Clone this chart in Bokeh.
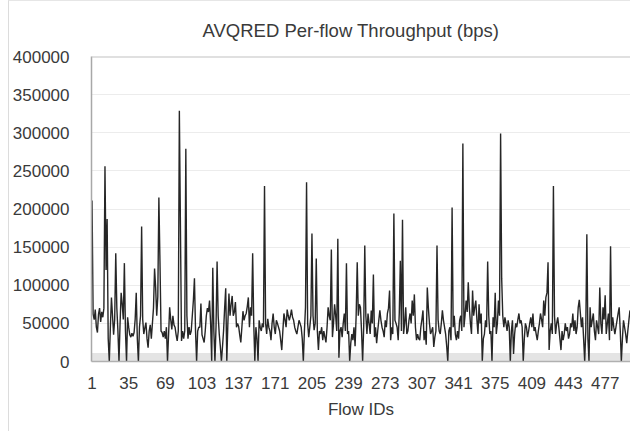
from bokeh.plotting import figure
from bokeh.models import (FixedTicker, NumeralTickFormatter, BoxAnnotation, Span,
                          Range1d, Title)
from bokeh.embed import file_html
from bokeh.resources import INLINE

# Per-flow throughput (bps) of the 500 flows under AVQRED
throughput_bps = [
    211000, 62000, 55000, 68000, 45000, 38000, 62000, 70000, 52000, 65000,
    58000, 70000, 256000, 120000, 187000, 30000, 0, 45000, 84000, 60000,
    35000, 55000, 142000, 70000, 40000, 0, 50000, 90000, 75000, 55000,
    129000, 40000, 0, 58000, 45000, 35000, 32000, 37000, 33000, 38000,
    55000, 90000, 30000, 0, 45000, 60000, 177000, 55000, 36000, 44000,
    51000, 30000, 18000, 40000, 48000, 30000, 50000, 70000, 122000, 97000,
    60000, 85000, 215000, 132000, 40000, 38000, 32000, 40000, 30000, 45000,
    0, 35000, 71000, 55000, 42000, 60000, 48000, 45000, 35000, 27000,
    40000, 329000, 176000, 27000, 40000, 30000, 40000, 279000, 60000, 30000,
    45000, 35000, 40000, 60000, 80000, 109000, 40000, 0, 40000, 45000,
    # 101 - 200
    45000, 76000, 35000, 30000, 25000, 40000, 60000, 70000, 65000, 80000,
    50000, 0, 123000, 40000, 0, 45000, 131000, 60000, 36000, 20000,
    0, 19000, 40000, 70000, 96000, 0, 50000, 89000, 60000, 75000,
    86000, 60000, 65000, 78000, 45000, 50000, 46000, 35000, 25000, 45000,
    66000, 54000, 60000, 63000, 72000, 84000, 45000, 71000, 60000, 142000,
    50000, 0, 45000, 30000, 0, 54000, 45000, 40000, 50000, 45000,
    230000, 50000, 36000, 56000, 45000, 40000, 28000, 50000, 63000, 45000,
    36000, 54000, 50000, 45000, 40000, 28000, 15000, 40000, 63000, 55000,
    45000, 68000, 60000, 54000, 60000, 68000, 58000, 54000, 45000, 40000,
    36000, 45000, 54000, 50000, 45000, 30000, 0, 40000, 71000, 235000,
    # 201 - 300
    50000, 32000, 45000, 60000, 168000, 60000, 41000, 50000, 135000, 40000,
    15000, 40000, 36000, 45000, 28000, 40000, 32000, 25000, 45000, 71000,
    60000, 54000, 147000, 32000, 50000, 75000, 60000, 40000, 161000, 5000,
    40000, 45000, 32000, 50000, 63000, 40000, 129000, 36000, 40000, 0,
    24000, 36000, 28000, 45000, 20000, 60000, 130000, 60000, 75000, 71000,
    40000, 0, 45000, 152000, 60000, 36000, 63000, 50000, 36000, 67000,
    50000, 114000, 32000, 45000, 24000, 40000, 54000, 67000, 54000, 45000,
    40000, 32000, 54000, 45000, 63000, 70000, 93000, 28000, 45000, 36000,
    194000, 54000, 50000, 45000, 28000, 63000, 132000, 40000, 186000, 36000,
    50000, 71000, 36000, 40000, 54000, 63000, 50000, 80000, 60000, 88000,
    # 301 - 400
    45000, 28000, 36000, 30000, 28000, 45000, 55000, 67000, 28000, 40000,
    22000, 97000, 70000, 50000, 36000, 40000, 45000, 19000, 32000, 40000,
    152000, 55000, 40000, 36000, 50000, 67000, 54000, 45000, 36000, 20000,
    0, 40000, 45000, 28000, 202000, 45000, 60000, 36000, 28000, 40000,
    30000, 54000, 60000, 40000, 286000, 45000, 60000, 80000, 65000, 104000,
    71000, 50000, 36000, 93000, 60000, 71000, 80000, 55000, 36000, 75000,
    50000, 63000, 0, 30000, 36000, 54000, 45000, 131000, 60000, 36000,
    40000, 0, 58000, 45000, 90000, 36000, 50000, 80000, 60000, 299000,
    109000, 60000, 45000, 58000, 50000, 40000, 54000, 45000, 0, 40000,
    54000, 10000, 36000, 50000, 45000, 55000, 63000, 50000, 54000, 45000,
    # 401 - 500
    0, 30000, 50000, 45000, 32000, 40000, 50000, 58000, 45000, 63000,
    40000, 45000, 36000, 28000, 40000, 50000, 63000, 55000, 45000, 80000,
    60000, 84000, 90000, 130000, 15000, 40000, 50000, 36000, 230000, 60000,
    36000, 50000, 58000, 45000, 30000, 15000, 40000, 28000, 36000, 50000,
    40000, 45000, 30000, 36000, 50000, 45000, 63000, 40000, 54000, 36000,
    45000, 71000, 81000, 63000, 45000, 58000, 30000, 0, 40000, 167000,
    30000, 0, 71000, 45000, 54000, 63000, 40000, 28000, 54000, 45000,
    36000, 97000, 50000, 36000, 71000, 55000, 87000, 36000, 50000, 63000,
    28000, 151000, 40000, 58000, 45000, 36000, 45000, 54000, 63000, 71000,
    40000, 0, 30000, 54000, 45000, 36000, 24000, 40000, 54000, 67000,
]
flow_ids = list(range(1, len(throughput_bps) + 1))

x_tick_labels = [1, 35, 69, 103, 137, 171, 205, 239, 273, 307, 341, 375, 409, 443, 477]
y_ticks = [0, 50000, 100000, 150000, 200000, 250000, 300000, 350000, 400000]

FONT = "Liberation Sans"
TEXT = "#3a3a3a"

p = figure(
    width=622, height=431,
    output_backend="svg", toolbar_location=None,
    x_range=Range1d(0.5, len(flow_ids) + 0.5),
    y_range=Range1d(0, 400000),
    min_border_left=81, min_border_right=1,
    min_border_top=55, min_border_bottom=71,
    background_fill_color="white", border_fill_color="white",
    outline_line_color=None,
)
p.margin = (0, 0, 0, 8)
p.styles = {"border-left": "1px solid #dcdcdc", "border-top": "1px solid #e6e6e6"}

p.title = Title(text="AVQRED Per-flow Throughput (bps)", align="left", offset=111,
                text_font=FONT, text_font_size="18.5px", text_font_style="normal",
                text_color=TEXT, standoff=31)

# light floor band along the category axis
p.add_layout(BoxAnnotation(bottom=0, top=11000, fill_color="#e4e4e4", fill_alpha=1.0,
                           line_color=None, level="underlay"))

p.line(flow_ids, throughput_bps, line_color="#262626", line_width=1.4)

# top border of the plot area
p.add_layout(Span(location=400000, dimension="width", line_color="#c2c2c2", line_width=2))

# y axis
p.yaxis.ticker = FixedTicker(ticks=y_ticks)
p.yaxis.formatter = NumeralTickFormatter(format="0")
p.yaxis.major_tick_line_color = None
p.yaxis.minor_tick_line_color = None
p.yaxis.axis_line_color = "#a8a8a8"
p.yaxis.axis_line_width = 1.5
p.yaxis.major_label_standoff = 16
p.yaxis.major_label_text_font = FONT
p.yaxis.major_label_text_font_size = "17px"
p.yaxis.major_label_text_color = TEXT

# x axis
p.xaxis.ticker = FixedTicker(ticks=x_tick_labels)
p.xaxis.major_tick_line_color = None
p.xaxis.minor_tick_line_color = None
p.xaxis.axis_line_color = "#b0b0b0"
p.xaxis.axis_line_width = 1.5
p.xaxis.major_label_standoff = 9
p.xaxis.major_label_text_font = FONT
p.xaxis.major_label_text_font_size = "17px"
p.xaxis.major_label_text_color = TEXT
p.xaxis.axis_label = "Flow IDs"
p.xaxis.axis_label_standoff = 8
p.xaxis.axis_label_text_font = FONT
p.xaxis.axis_label_text_font_size = "17px"
p.xaxis.axis_label_text_font_style = "normal"
p.xaxis.axis_label_text_color = TEXT

p.xgrid.grid_line_color = None
p.ygrid.ticker = FixedTicker(ticks=y_ticks)
p.ygrid.grid_line_color = "#ececec"
p.ygrid.grid_line_width = 1

open("out.html", "w").write(file_html(p, INLINE))
